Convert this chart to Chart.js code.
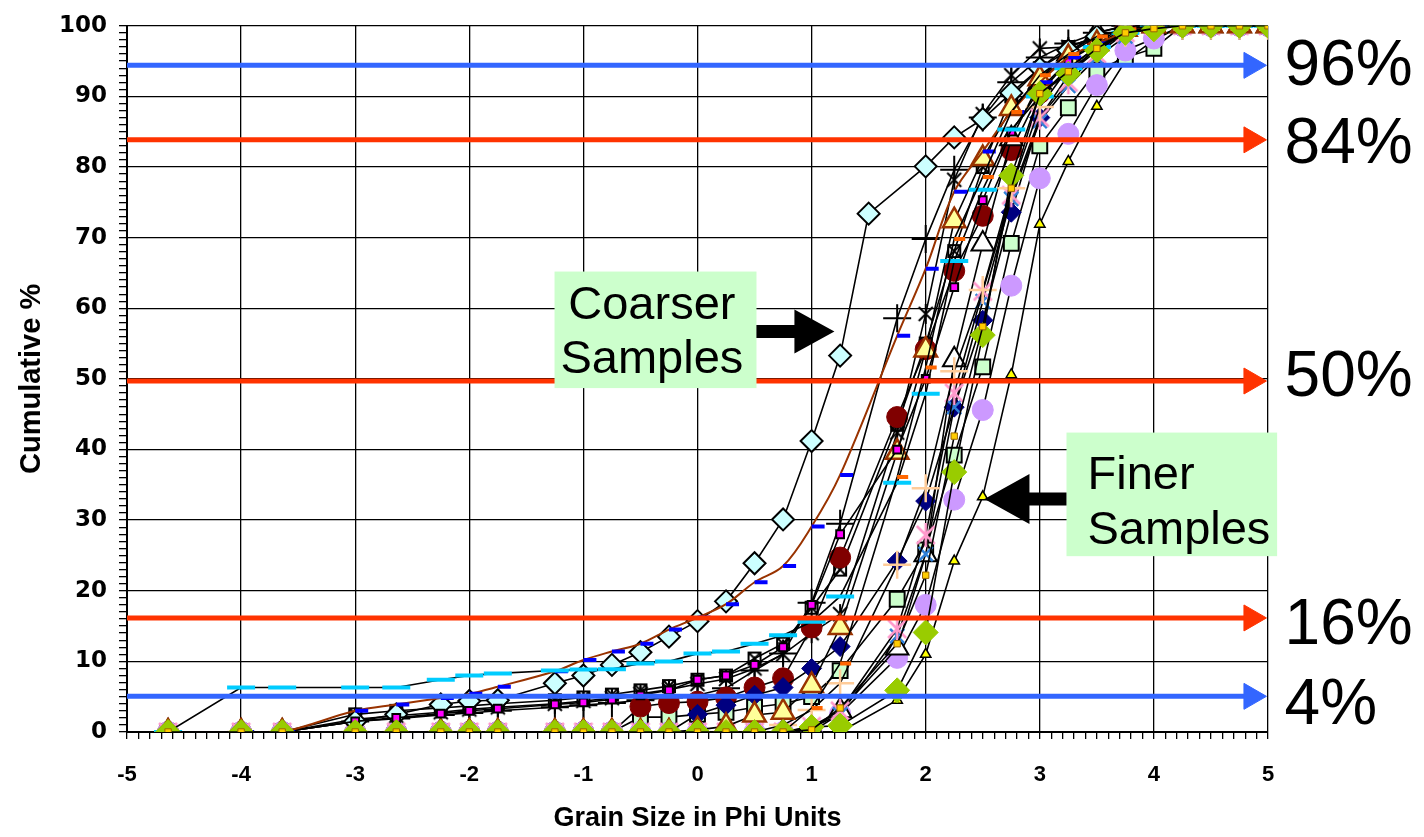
<!DOCTYPE html>
<html><head><meta charset="utf-8">
<script src="https://cdn.jsdelivr.net/npm/chart.js@4.4.1/dist/chart.umd.min.js"></script>
<style>html,body{margin:0;padding:0;background:#fff}#wrap{width:1424px;height:837px;position:relative}</style>
</head><body><div id="wrap"><canvas id="c"></canvas></div>
<script>
// ---------- data ----------
const phi = [-4.64,-4,-3.64,-3,-2.64,-2.25,-2,-1.75,-1.25,-1,-0.75,-0.5,-0.25,0,0.25,0.5,0.75,1,1.25,1.75,2,2.25,2.5,2.75,3,3.25,3.5,3.75,4,4.25,4.5,4.75,5];
const phiCoarse = [-4.64,-4,-3.64,-3,-2.64,-2.25,-2,-1.75,-1.25,-1,-0.75,-0.5,-0.25,0,0.25,0.5,0.75,1,1.25,1.5,2,2.25,2.5,2.75,3,3.25,3.5,3.75,4,4.25,4.5,4.75,5];

const cyanDiamond = [0,0,0,1.5,2.5,3.9,4.4,4.5,6.9,8.0,9.5,11.3,13.5,15.7,18.5,23.9,30.1,41.2,53.3,73.4,80.1,84.2,86.8,90.5,94,96.5,98.5,99.5,100,100,100,100,100];
const blueDash    = [0,0,0,3.0,3.9,4.8,5.4,6.4,8.6,10.2,11.4,12.5,14.5,16.2,18.1,21.2,23.5,29.1,36.4,56.1,65.6,76.5,82.2,87.8,92,95.5,97.5,99,100,100,100,100,100];
const cyanDash    = [0,6.3,6.3,6.3,6.3,7.4,8.0,8.3,8.7,8.85,8.9,9.7,10.0,11.1,11.4,12.5,13.7,15.6,19.2,35.3,47.9,66.7,76.8,85.3,90,94,97,99,100,100,100,100,100];
const redCircle   = [0,0,0,0,0,0,0,0,0,0,0,3.6,4.1,4.3,4.9,6.3,7.6,14.8,24.7,44.6,54.2,65.3,73.1,82.4,90.5,95,98,99.5,100,100,100,100,100];
const paleTriangle= [0,0,0,0,0,0,0,0,0,0,0,0,0,0.3,0.8,2.4,2.8,6.6,14.8,39.6,54.1,72.4,81.2,88.3,92.5,95.5,97.5,99.5,100,100,100,100,100];
const greenDiamond= [0,0,0,0,0,0,0,0,0,0,0,0,0,0,0,0,0,0.7,0.9,5.9,14.1,36.8,56.2,78.8,90.4,93.2,96.5,99.0,99.5,100,100,100,100];
const goldSquare  = [0,0,0,0,0,0,0,0,0,0,0,0,0,0,0,0,0,0.3,3.4,12.5,22.2,41.9,57.4,77,90.4,93.5,96.8,99,99.6,100,100,100,100];
const magentaSq   = [0,0,0,1.5,2.0,2.6,3.0,3.3,3.9,4.2,4.6,5.2,5.9,7.4,8.0,9.5,12.0,18.0,28,40,50,63,75.3,85,91,95,97.5,99,100,100,100,100,100];
const asterisk    = [0,0,0,1.8,2.3,2.8,3.2,3.5,4.0,4.4,4.8,5.4,6.0,6.8,7.5,9.0,11.0,14.0,16.7,42.4,59.2,78.2,87.5,93,96.8,97,98.5,99.5,100,100,100,100,100];
const blackPlus   = [0,0,0,1.5,1.9,2.4,2.7,3.0,3.5,3.8,4.1,4.5,4.9,5.2,6.2,8.7,11.1,18.3,29.5,58.6,69.8,79.6,87,92,95.5,97.5,99,100,100,100,100,100,100];
const openTriangle= [0,0,0,0,0,0,0,0,0,0,0,0,0,0,0,0,0,0.5,3.0,11.9,25.1,52.7,69.1,84,92,96,99,100,100,100,100,100,100];
const greenSquare = [0,0,0,0,0,0,0,0,0,0,0,2.1,2.1,2.5,2.8,3.5,4.0,5.0,8.7,18.8,25.8,39.2,51.7,69.2,83,88.4,93.7,95.5,96.8,100,100,100,100];
const purpleCircle= [0,0,0,0,0,0,0,0,0,0,0,0,0,0,0,0,0,0,2.6,10.5,18,32.9,45.6,63.2,78.4,84.7,91.6,96.5,98.2,100,100,100,100];
const smallTri    = [0,0,0,0,0,0,0,0,0,0,0,0,0,0,0,0,0,0,0,4.5,11,24.2,33.3,50.6,71.9,80.8,88.6,95,98,100,100,100,100];
const navyDiamond = [0,0,0,0,0,0,0,0,0,0,0,0,0,2.5,3.8,5.2,6.3,9.0,12.1,24.2,32.7,46,58.3,73.6,87,93,97,99,100,100,100,100,100];
const pinkStar    = [0,0,0,0,0,0,0,0,0,0,0,0,0,0,0,0,0,0.8,3.0,14.6,27.9,48,62.4,76,87,92,96,99,100,100,100,100,100];
const blueX       = [0,0,0,0,0,0,0,0,0,0,0,0,0,0,0,0,0,0.6,2.5,13.6,25.2,46,61,75.5,86.5,91.5,95.5,98.5,100,100,100,100,100];
const peachPlus   = [0,0,0,0,0,0,0,0,0,0,0,0,0,0,0,0,1.0,3.1,6.9,23.7,34.5,51.1,62.6,77,88.5,94,97,99,100,100,100,100,100];
const orangeDash  = [0,0,0,0,0,0,0,0,0,0,0,0,0,0,0,0,0,3.4,9.7,36.1,51.6,69.8,78.6,87.8,93,96,98.5,99.5,100,100,100,100,100];
const boxX        = [0,0,0,2.5,3.0,3.4,3.7,4.0,4.5,4.9,5.3,5.9,6.5,7.4,8.0,10.4,12.5,17.6,23,43.5,55,68.1,80,90,94,97,98.5,99.5,100,100,100,100,100];

const refLevels = [94.4, 83.85, 49.7, 16.15, 5.05];
const refLabels = ['96%','84%','50%','16%','4%'];
const xTickLabels = ['-5','-4','-3','-2','-1','0','1','2','3','4','5'];
const yTickLabels = ['0','10','20','30','40','50','60','70','80','90','100'];

// ---------- styles ----------
const FONT = '"Liberation Sans", Arial, Helvetica, sans-serif';
Chart.defaults.font.family = FONT;

function glyph(size, draw){
  const c = document.createElement('canvas'); c.width = c.height = size;
  const g = c.getContext('2d'); draw(g, size); return c;
}
const starBlack = glyph(22, (g,s)=>{g.strokeStyle='#000';g.lineWidth=2;g.beginPath();
  g.moveTo(4,4);g.lineTo(s-4,s-4);g.moveTo(s-4,4);g.lineTo(4,s-4);g.moveTo(s/2,1);g.lineTo(s/2,s-1);g.stroke();});
const starPink = glyph(26, (g,s)=>{g.strokeStyle='#FF99CC';g.lineWidth=2.5;g.beginPath();
  g.moveTo(4,4);g.lineTo(s-4,s-4);g.moveTo(s-4,4);g.lineTo(4,s-4);g.moveTo(s/2,1);g.lineTo(s/2,s-1);g.stroke();});
const xBox = glyph(18, (g,s)=>{g.strokeStyle='#000';g.lineWidth=2;g.strokeRect(3,3,s-6,s-6);g.beginPath();
  g.moveTo(3,3);g.lineTo(s-3,s-3);g.moveTo(s-3,3);g.lineTo(3,s-3);g.stroke();});

function pts(xs, ys){ return ys.map((v,i)=>({x:xs[i], y:v})); }
function series(values, marker, extra){
  return Object.assign({
    data: pts(phi, values), borderColor:'#000', borderWidth:1.6, tension:0,
    showLine:true, fill:false
  }, marker, extra||{});
}

const refColors = ['#3366FF','#FF3300','#FF3300','#FF3300','#3366FF'];
const refSets = refLevels.map((lv,i)=>({
  data:[{x:-5,y:lv},{x:4.855,y:lv}], borderColor:refColors[i], borderWidth:5, showLine:true,
  pointRadius:[0,15], pointStyle:'triangle', rotation:90,
  pointBackgroundColor:refColors[i], pointBorderColor:refColors[i], pointBorderWidth:1
}));

const datasets = [
  ...refSets,
  series(goldSquare,  {pointStyle:'rect', pointRadius:4.5, pointBackgroundColor:'#FFCC00', pointBorderColor:'#996600', pointBorderWidth:1}),
  series(greenDiamond,{pointStyle:'rectRot', pointRadius:12.5, pointBackgroundColor:'#99CC00', pointBorderColor:'#99CC00', pointBorderWidth:1}),
  series(orangeDash,  {pointStyle:'dash', pointRadius:11, pointBorderColor:'#FF6600', pointBorderWidth:4}),
  series(cyanDash,    {pointStyle:'line', pointRadius:14, pointBorderColor:'#00CCFF', pointBorderWidth:4}),
  series(blueDash,    {pointStyle:'dash', pointRadius:13, pointBorderColor:'#0000FF', pointBorderWidth:4}, {borderColor:'#993300', borderWidth:2, tension:0.35}),
  series(magentaSq,   {pointStyle:'rect', pointRadius:5.5, pointBackgroundColor:'#FF00FF', pointBorderColor:'#000', pointBorderWidth:2}),
  series(paleTriangle,{pointStyle:'triangle', pointRadius:13, pointBackgroundColor:'#FFFF99', pointBorderColor:'#993300', pointBorderWidth:2.5}),
  Object.assign(series(cyanDiamond,{pointStyle:'rectRot', pointRadius:11, pointBackgroundColor:'#CCFFFF', pointBorderColor:'#000', pointBorderWidth:2}), {data: pts(phiCoarse, cyanDiamond)}),
  series(peachPlus,   {pointStyle:'cross', pointRadius:14, pointBorderColor:'#FFCC99', pointBorderWidth:2.5}),
  series(pinkStar,    {pointStyle:starPink, pointRadius:12}),
  series(blueX,       {pointStyle:'crossRot', pointRadius:10, pointBorderColor:'#2F80D8', pointBorderWidth:2.5}),
  series(navyDiamond, {pointStyle:'rectRot', pointRadius:10, pointBackgroundColor:'#000080', pointBorderColor:'#000080', pointBorderWidth:1}),
  series(openTriangle,{pointStyle:'triangle', pointRadius:13, pointBackgroundColor:'#FFFFFF', pointBorderColor:'#000', pointBorderWidth:2}),
  series(purpleCircle,{pointStyle:'circle', pointRadius:10.5, pointBackgroundColor:'#CC99FF', pointBorderColor:'#CC99FF', pointBorderWidth:1}),
  series(redCircle,   {pointStyle:'circle', pointRadius:10.5, pointBackgroundColor:'#800000', pointBorderColor:'#800000', pointBorderWidth:1}),
  series(greenSquare, {pointStyle:'rect', pointRadius:10.5, pointBackgroundColor:'#CCFFCC', pointBorderColor:'#000', pointBorderWidth:2}),
  series(smallTri,    {pointStyle:'triangle', pointRadius:6, pointBackgroundColor:'#FFFF00', pointBorderColor:'#000', pointBorderWidth:1.5}),
  series(asterisk,    {pointStyle:starBlack, pointRadius:11}),
  series(blackPlus,   {pointStyle:'cross', pointRadius:14, pointBorderColor:'#000', pointBorderWidth:2}),
  series(boxX,        {pointStyle:xBox, pointRadius:9})
];

// ---------- annotations ----------
const annot = {
  id:'annot',
  afterDraw(chart){
    const {ctx, scales:{x, y}} = chart;
    const X = v => x.getPixelForValue(v), Y = v => y.getPixelForValue(v);
    ctx.save();
    ctx.fillStyle = '#000';
    ctx.font = '64px ' + FONT;
    ctx.textAlign = 'left'; ctx.textBaseline = 'middle';
    const labelPct = [94.1, 83.1, 50.1, 15.0, 3.6];
    refLabels.forEach((t,i)=> ctx.fillText(t, X(5.145), Y(labelPct[i])));

    // Coarser box
    ctx.fillStyle = '#CCFFCC';
    ctx.fillRect(X(-1.253), Y(65.2), X(0.517)-X(-1.253), Y(48.7)-Y(65.2));
    ctx.fillStyle = '#000';
    ctx.font = '47px ' + FONT;
    ctx.textAlign = 'center'; ctx.textBaseline = 'alphabetic';
    ctx.fillText('Coarser', X(-0.40), Y(58.5));
    ctx.fillText('Samples', X(-0.40), Y(50.9));
    let tx = X(1.2), ty = Y(56.7);
    ctx.beginPath();
    ctx.moveTo(tx, ty); ctx.lineTo(tx-40, ty-22); ctx.lineTo(tx-40, ty-6.5);
    ctx.lineTo(tx-78, ty-6.5); ctx.lineTo(tx-78, ty+6.5); ctx.lineTo(tx-40, ty+6.5);
    ctx.lineTo(tx-40, ty+22); ctx.closePath(); ctx.fill();

    // Finer box
    ctx.fillStyle = '#CCFFCC';
    ctx.fillRect(X(3.234), Y(42.4), X(5.08)-X(3.234), Y(24.9)-Y(42.4));
    ctx.fillStyle = '#000';
    ctx.textAlign = 'left';
    ctx.fillText('Finer', X(3.418), Y(34.4));
    ctx.fillText('Samples', X(3.418), Y(26.6));
    tx = X(2.515); ty = Y(33.0);
    ctx.beginPath();
    ctx.moveTo(tx, ty); ctx.lineTo(tx+45, ty-25); ctx.lineTo(tx+45, ty-6.5);
    ctx.lineTo(tx+82, ty-6.5); ctx.lineTo(tx+82, ty+6.5); ctx.lineTo(tx+45, ty+6.5);
    ctx.lineTo(tx+45, ty+25); ctx.closePath(); ctx.fill();
    ctx.restore();
  }
};

const isInt = v => Math.abs(v - Math.round(v)) < 1e-6;

new Chart(document.getElementById('c'), {
  type: 'scatter',
  data: { datasets },
  options: {
    responsive: true, maintainAspectRatio: false, animation: false,
    layout: { padding: { top: 20, right: 156, left: 0, bottom: 0 } },
    plugins: { legend: { display: false }, tooltip: { enabled: false } },
    scales: {
      x: {
        type: 'linear', min: -5, max: 5,
        afterFit(s){ s.height = 105; },
        border: { color: '#000', width: 2 },
        grid: {
          color: c => isInt(c.tick.value) ? '#000' : 'rgba(0,0,0,0)',
          lineWidth: 1.3, tickColor: '#000', tickLength: 7, tickWidth: 1.3
        },
        ticks: {
          stepSize: 0.1, autoSkip: false, maxRotation: 0, padding: 23,
          color: '#000', font: { size: 22, weight: 'bold' },
          callback: v => isInt(v) ? xTickLabels[Math.round(v) + 5] : ''
        },
        title: { display: true, text: 'Grain Size in Phi Units', color: '#000',
                 font: { size: 27, weight: 'bold' }, padding: { top: 0, bottom: 2 } }
      },
      y: {
        type: 'linear', min: 0, max: 100,
        afterFit(s){ s.width = 127; },
        border: { color: '#000', width: 2 },
        grid: {
          color: c => (Math.round(c.tick.value) % 10 === 0) ? '#000' : 'rgba(0,0,0,0)',
          lineWidth: 1.3, tickColor: '#000', tickLength: 8, tickWidth: 1.3
        },
        ticks: {
          stepSize: 1, autoSkip: false, padding: 12,
          color: '#000', font: { family: '"DejaVu Sans", Arial, sans-serif', size: 23, weight: 'bold' },
          callback: v => (Math.round(v) % 10 === 0) ? yTickLabels[Math.round(v) / 10] : ''
        },
        title: { display: true, text: 'Cumulative %', color: '#000',
                 font: { size: 29, weight: 'bold' }, padding: { top: 15, bottom: 0 } }
      }
    }
  },
  plugins: [annot]
});
</script>
</body></html>
